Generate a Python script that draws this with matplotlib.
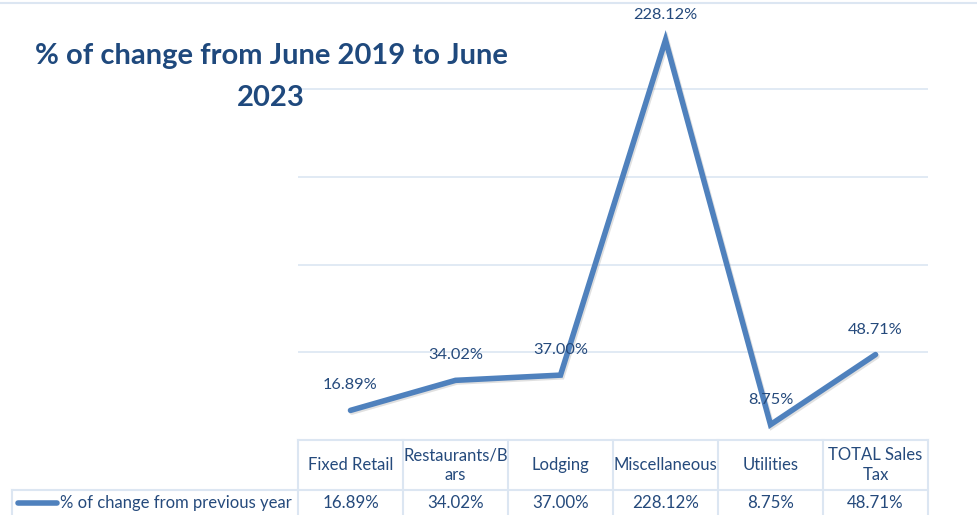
import matplotlib.pyplot as plt
import matplotlib.patheffects as pe
from matplotlib.lines import Line2D
import matplotlib.transforms as mtransforms

plt.rcParams["font.family"] = ["Lato", "DejaVu Sans"]

categories = ["Fixed Retail", "Restaurants/B\nars", "Lodging", "Miscellaneous", "Utilities", "TOTAL Sales\nTax"]
pct_change = [16.89, 34.02, 37.00, 228.12, 8.75, 48.71]
series_name = "% of change from previous year"
title = "% of change from June 2019 to June\n2023"

LINE_COLOR = "#4F81BD"
TEXT_COLOR = "#254A7C"
TITLE_COLOR = "#1F497D"
GRID_COLOR = "#DCE6F2"

W, H = 978, 515
fig = plt.figure(figsize=(W / 100, H / 100), dpi=100)

# plot area in pixel terms
left_px, right_px, top_px, bottom_px = 298, 928, 1.6, 440
ax = fig.add_axes([left_px / W, 1 - bottom_px / H, (right_px - left_px) / W, (bottom_px - top_px) / H])
ax.set_xlim(-0.5, len(categories) - 0.5)
ax.set_ylim(0, 250)
ax.set_yticks([0, 50, 100, 150, 200, 250])
ax.grid(axis="y", color=GRID_COLOR, linewidth=1.2)
ax.tick_params(left=False, bottom=False, labelleft=False, labelbottom=False)
for s in ax.spines.values():
    s.set_visible(False)

x = list(range(len(categories)))
ax.plot(x, pct_change, color=LINE_COLOR, linewidth=4, solid_capstyle="round", solid_joinstyle="miter",
        path_effects=[pe.SimpleLineShadow(offset=(1.0, -1.2), shadow_color="#666666", alpha=0.2),
                      pe.Normal()], zorder=3)

for xi, v in zip(x, pct_change):
    ax.annotate(f"{v:.2f}%", (xi, v), xytext=(0, 18), textcoords="offset points",
                ha="center", va="center", fontsize=11.8, color=TEXT_COLOR, zorder=4)

# top border line across the chart area
fig.add_artist(Line2D([0, 1], [1 - 3 / H, 1 - 3 / H], color=GRID_COLOR, linewidth=1.5))

# data table under the plot
trans = mtransforms.blended_transform_factory(ax.transData, fig.transFigure)
header_top = 1 - 440 / H
header_bot = 1 - 490 / H
row_bot = 0.0
table_kw = dict(color=GRID_COLOR, linewidth=1.5, clip_on=False)

for yy in (header_top, header_bot):
    fig.add_artist(Line2D([-0.5, len(categories) - 0.5], [yy, yy], transform=trans, **table_kw))
for xi in range(len(categories) + 1):
    fig.add_artist(Line2D([xi - 0.5, xi - 0.5], [row_bot, header_top], transform=trans, **table_kw))

# legend cell
fig.add_artist(Line2D([12 / W, left_px / W], [header_bot, header_bot], **table_kw))
fig.add_artist(Line2D([12 / W, 12 / W], [row_bot, header_bot], **table_kw))
fig.add_artist(Line2D([18 / W, 57 / W], [1 - 503 / H, 1 - 503 / H], color=LINE_COLOR, linewidth=4,
                      solid_capstyle="round"))
fig.text(60 / W, 1 - 503 / H, series_name, ha="left", va="center", fontsize=12, color=TEXT_COLOR)

for xi, (cat, v) in enumerate(zip(categories, pct_change)):
    fig.text(xi, 1 - 465 / H, cat, transform=trans, ha="center", va="center", fontsize=12,
             color=TEXT_COLOR, linespacing=1.3)
    fig.text(xi, 1 - 503 / H, f"{v:.2f}%", transform=trans, ha="center", va="center", fontsize=12.2,
             color=TEXT_COLOR)

fig.text(271 / W, 1 - 77 / H, title, ha="center", va="center", fontsize=21, fontweight="bold",
         color=TITLE_COLOR, linespacing=1.75)

fig.savefig("out.png", dpi=100)
